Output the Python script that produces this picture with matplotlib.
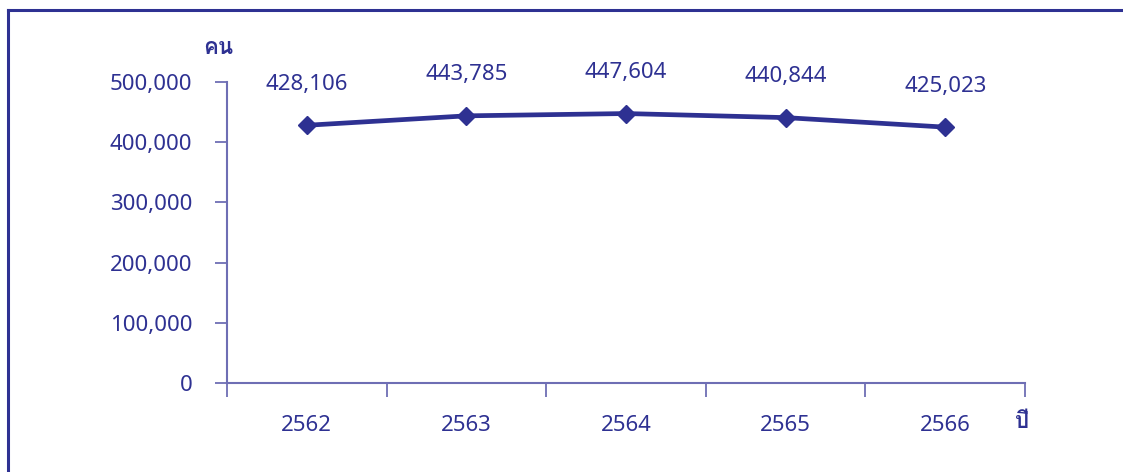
import matplotlib
matplotlib.use("Agg")
import matplotlib.pyplot as plt
from matplotlib import font_manager
from matplotlib.ft2font import FT2Font
from matplotlib.lines import Line2D
from matplotlib.ticker import FixedLocator, FuncFormatter

# ---- data ----
years = ["2562", "2563", "2564", "2565", "2566"]
persons = [428106, 443785, 447604, 440844, 425023]
y_ticks = [0, 100000, 200000, 300000, 400000, 500000]
y_unit = "คน"
x_unit = "ปี"

# ---- find a font with Thai glyphs ----
thai_family = None
for fe in font_manager.fontManager.ttflist:
    try:
        cm = FT2Font(fe.fname).get_charmap()
    except Exception:
        continue
    if ord("ค") in cm and ord("ป") in cm and ord("ี") in cm:
        thai_family = fe.name
        break
families = ["Noto Sans"] + ([thai_family] if thai_family else []) + ["DejaVu Sans"]
plt.rcParams["font.family"] = families
plt.rcParams["font.weight"] = "medium"

TEXT = "#2E3192"
LINE = "#2E3192"
AXC = "#6E6EB4"
FS = 16

W, H, DPI = 1123, 472, 100
fig = plt.figure(figsize=(W / DPI, H / DPI), dpi=DPI)
fig.patch.set_facecolor("white")

# axes placement (pixels)
x0, x1 = 227, 1025
ytop, ybot = 82, 383
ax = fig.add_axes([x0 / W, 1 - ybot / H, (x1 - x0) / W, (ybot - ytop) / H])

xs = list(range(len(years)))
ax.plot(xs, persons, color=LINE, lw=3.4, marker="D", ms=9.5,
        markerfacecolor=LINE, markeredgecolor=LINE, zorder=3, clip_on=False)

for x, v in zip(xs, persons):
    ax.annotate(f"{v:,}", (x, v), xytext=(0, 41), textcoords="offset pixels",
                ha="center", va="center", fontsize=FS, color=TEXT)

ax.set_xlim(-0.5, len(years) - 0.5)
ax.set_ylim(0, 500000)

ax.set_xticks(xs)
ax.set_xticklabels(years)
ax.xaxis.set_minor_locator(FixedLocator([i - 0.5 for i in range(len(years) + 1)]))
ax.tick_params(axis="x", which="major", length=0, pad=23, labelsize=FS, labelcolor=TEXT)
ax.tick_params(axis="x", which="minor", length=10, width=1.3, color=AXC, direction="out")

ax.set_yticks(y_ticks)
ax.yaxis.set_major_formatter(FuncFormatter(lambda v, p: f"{int(v):,}"))
ax.tick_params(axis="y", length=9, width=1.3, color=AXC, direction="out",
               pad=16, labelsize=FS, labelcolor=TEXT)
for lbl in ax.get_yticklabels():
    lbl.set_va("center_baseline")

for s in ["top", "right"]:
    ax.spines[s].set_visible(False)
for s in ["left", "bottom"]:
    ax.spines[s].set_color(AXC)
    ax.spines[s].set_linewidth(1.5)
ax.set_facecolor("none")

# unit labels
fig.text(218 / W, 1 - 49 / H, y_unit, ha="center", va="center", fontsize=16,
         fontweight="bold", color=TEXT)
fig.text(1022 / W, 1 - 423 / H, x_unit, ha="center", va="center", fontsize=16,
         fontweight="bold", color=TEXT)

# outer frame (left & top only visible)
fig.add_artist(Line2D([7.5 / W, 7.5 / W], [0, 1 - 10 / H], transform=fig.transFigure,
                      color="#2E3192", lw=2.2))
fig.add_artist(Line2D([7.5 / W, 1], [1 - 10 / H, 1 - 10 / H], transform=fig.transFigure,
                      color="#2E3192", lw=2.2))

fig.savefig("out.png", dpi=DPI, facecolor="white")
